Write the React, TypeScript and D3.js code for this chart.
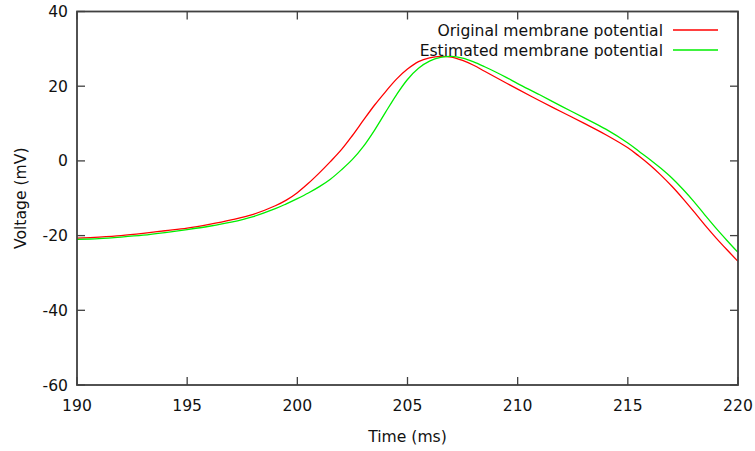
import React from 'react';
import * as d3 from 'd3';

// time (ms) sample points, shared by both series
const timeMs = [
  190, 191, 192, 193, 194, 195, 196, 197, 198, 199, 199.5, 200, 200.5, 201, 201.5, 202, 202.5,
  203, 203.5, 204, 204.5, 205, 205.5, 206, 206.5, 207, 207.5, 208, 208.5, 209, 209.5, 210, 211, 212,
  213, 214, 215, 215.5, 216, 216.5, 217, 217.5, 218, 218.5, 219, 219.5, 220,
];

const originalMv = [
  -20.7, -20.4, -20.0, -19.4, -18.7, -18.0, -17.0, -15.8, -14.3, -12.0, -10.5, -8.5, -6.0, -3.2, -0.2, 3.0, 6.8,
  10.9, 14.9, 18.5, 21.9, 24.6, 26.6, 27.6, 28.0, 27.8, 26.9, 25.6, 24.0, 22.4, 20.8, 19.2, 16.1, 13.1,
  10.1, 7.0, 3.5, 1.3, -1.1, -3.8, -6.8, -10.1, -13.6, -17.2, -20.6, -23.8, -26.9,
];

const estimatedMv = [
  -21.0, -20.8, -20.4, -19.9, -19.2, -18.4, -17.5, -16.4, -14.9, -12.8, -11.5, -10.1, -8.6, -6.9, -4.9, -2.4, 0.4,
  3.9, 8.2, 13.0, 17.7, 21.8, 24.8, 26.7, 27.7, 28.0, 27.5, 26.5, 25.2, 23.8, 22.3, 20.7, 17.7, 14.6,
  11.6, 8.5, 4.8, 2.6, 0.4, -2.0, -4.6, -7.6, -10.9, -14.5, -18.0, -21.3, -24.5,
];

const xTicks = [190, 195, 200, 205, 210, 215, 220];
const yTicks = [-60, -40, -20, 0, 20, 40];

const seriesNames = ['Original membrane potential', 'Estimated membrane potential'];
const seriesColors = ['#ff0000', '#00ee00'];

const W = 755;
const H = 451;
const margin = { left: 77, right: 17, top: 11.5, bottom: 66 };

export default function App() {
  const x = d3.scaleLinear().domain([190, 220]).range([margin.left, W - margin.right]);
  const y = d3.scaleLinear().domain([-60, 40]).range([H - margin.bottom, margin.top]);

  const line = d3
    .line<[number, number]>()
    .x(d => x(d[0]))
    .y(d => y(d[1]))
    .curve(d3.curveCatmullRom.alpha(0.5));

  const series = [originalMv, estimatedMv].map(vals =>
    timeMs.map((t, i) => [t, vals[i]] as [number, number])
  );

  const x0 = x(190), x1 = x(220), y0 = y(-60), y1 = y(40);
  const tk = 8;
  const fs = 15.6;
  const font = "'DejaVu Sans', sans-serif";
  const axisColor = '#404040';

  return (
    <svg
      width={W}
      height={H}
      style={{ position: 'absolute', left: 0, top: 0, background: '#fff' }}
      fontFamily={font}
    >
      <defs>
        <clipPath id="plot">
          <rect x={x0} y={y1} width={x1 - x0} height={y0 - y1} />
        </clipPath>
      </defs>

      {/* curves */}
      <g clipPath="url(#plot)">
        {series.map((s, i) => (
          <path key={i} d={line(s) || ''} fill="none" stroke={seriesColors[i]} strokeWidth={1.3} />
        ))}
      </g>

      {/* ticks, mirrored on all sides */}
      <g stroke={axisColor} strokeWidth={1.3}>
        {xTicks.map(t => (
          <g key={'x' + t}>
            <line x1={x(t)} x2={x(t)} y1={y0} y2={y0 - tk} />
            <line x1={x(t)} x2={x(t)} y1={y1} y2={y1 + tk} />
          </g>
        ))}
        {yTicks.map(t => (
          <g key={'y' + t}>
            <line x1={x0} x2={x0 + tk} y1={y(t)} y2={y(t)} />
            <line x1={x1} x2={x1 - tk} y1={y(t)} y2={y(t)} />
          </g>
        ))}
      </g>

      {/* frame */}
      <rect x={x0} y={y1} width={x1 - x0} height={y0 - y1} fill="none" stroke={axisColor} strokeWidth={1.8} />

      {/* tick labels */}
      <g fontSize={fs} fill="#111">
        {xTicks.map(t => (
          <text key={'xl' + t} x={x(t)} y={y0 + 26} textAnchor="middle">{t}</text>
        ))}
        {yTicks.map(t => (
          <text key={'yl' + t} x={x0 - 9} y={y(t) + 5.5} textAnchor="end">{t}</text>
        ))}
      </g>

      {/* axis titles */}
      <text x={(x0 + x1) / 2} y={442} textAnchor="middle" fontSize={fs} fill="#111">Time (ms)</text>
      <text
        transform={`translate(26, ${(y0 + y1) / 2}) rotate(-90)`}
        textAnchor="middle"
        fontSize={fs}
        fill="#111"
      >
        Voltage (mV)
      </text>

      {/* legend */}
      {seriesNames.map((name, i) => (
        <g key={name}>
          <text x={663} y={35.5 + i * 20} textAnchor="end" fontSize={fs} fill="#111">{name}</text>
          <line x1={673} x2={718} y1={30 + i * 20} y2={30 + i * 20} stroke={seriesColors[i]} strokeWidth={1.3} />
        </g>
      ))}
    </svg>
  );
}
